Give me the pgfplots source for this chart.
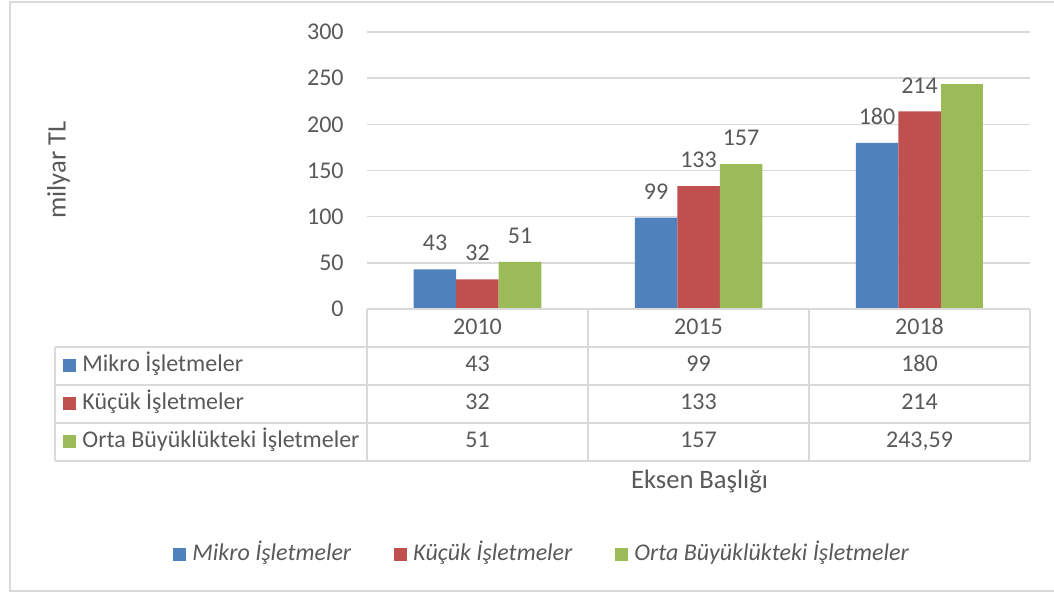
\documentclass[border=0pt]{standalone}
\usepackage{fontspec}
\setmainfont{Carlito}
\usepackage{pgfplots}
\pgfplotsset{compat=1.18}
\definecolor{cblue}{HTML}{4F81BD}
\definecolor{cred}{HTML}{C0504D}
\definecolor{cgreen}{HTML}{9BBB59}
\definecolor{txt}{HTML}{595959}
\definecolor{grd}{HTML}{D9D9D9}
\newcommand{\fs}{\fontsize{12}{14}\selectfont}
\newcommand{\ft}{\fontsize{13.3}{15}\selectfont}
\begin{document}
\begin{tikzpicture}[font=\fs, text=txt]
\begin{axis}[name=ax, at={(0,0)}, anchor=south west,
  scale only axis, width=331.5pt, height=138.5pt,
  xmin=-0.5, xmax=2.5, ymin=0, ymax=300,
  ytick={0,50,...,300}, xtick=\empty,
  ymajorgrids, grid style={grd, line width=0.75pt},
  axis line style={draw=none}, major tick length=0pt,
  yticklabel style={inner sep=0pt, xshift=-11.5pt, text=txt, font=\fs},
  /pgf/number format/assume math mode=true,
  ybar=0pt, bar width=21.25pt,
  clip=false,
  every node near coord/.append style={anchor=south, inner sep=0pt, yshift=9pt, font=\fs, text=txt},
  legend style={at={(-0.2926,-0.8863)}, anchor=west, draw=none, fill=none, inner sep=0pt,
    legend columns=3, font=\itshape\fs,
    nodes={inner sep=0pt, text depth=0pt, text height=6.5pt, text=txt},
    cells={anchor=base west},
    /tikz/every odd column/.append style={column sep=3pt},
    /tikz/every even column/.append style={column sep=21.5pt}},
]
\addplot[fill=cblue, draw=none, bar shift=-21.25pt, nodes near coords,
  legend image code/.code={\fill[cblue] (0pt,0pt) rectangle (6.5pt,6.5pt);}]
  coordinates {(0,43) (1,99) (2,180)};
\addlegendentry{Mikro İşletmeler}
\addplot[fill=cred, draw=none, bar shift=0pt, nodes near coords,
  legend image code/.code={\fill[cred] (0pt,0pt) rectangle (6.5pt,6.5pt);}]
  coordinates {(0,32) (1,133) (2,214)};
\addlegendentry{Küçük İşletmeler}
\addplot[fill=cgreen, draw=none, bar shift=21.25pt, nodes near coords,
  legend image code/.code={\fill[cgreen] (0pt,0pt) rectangle (6.5pt,6.5pt);}]
  coordinates {(0,51) (1,157)};
\addlegendentry{Orta Büyüklükteki İşletmeler}
\addplot[fill=cgreen, draw=none, bar shift=21.25pt, forget plot]
  coordinates {(2,243.59)};
\end{axis}
\begin{scope}[x=0.5pt, y=-0.5pt, xshift=-183.5pt, yshift=154.5pt]
  % outer border
  \draw[grd, line width=1pt] (1060,2) -- (10,2) -- (10,591) -- (1060,591);
  % data table
  \draw[grd, line width=1pt] (367,309) -- (1030,309);
  \foreach \X in {367,588,809,1030} \draw[grd, line width=1pt] (\X,309) -- (\X,461);
  \draw[grd, line width=1pt] (55,347) -- (55,461);
  \foreach \Y in {347,385,423,461} \draw[grd, line width=1pt] (55,\Y) -- (1030,\Y);
  \node[anchor=base] at (477.5,335) {2010};
  \node[anchor=base] at (698.5,335) {2015};
  \node[anchor=base] at (919.5,335) {2018};
  \fill[cblue] (63,359) rectangle (76,372);
  \fill[cred] (63,397) rectangle (76,410);
  \fill[cgreen] (63,435) rectangle (76,448);
  \node[anchor=base west, inner sep=0pt] at (82,372) {Mikro İşletmeler};
  \node[anchor=base west, inner sep=0pt] at (82,410) {Küçük İşletmeler};
  \node[anchor=base west, inner sep=0pt] at (82,448) {Orta Büyüklükteki İşletmeler};
  \node[anchor=base] at (477.5,372) {43};
  \node[anchor=base] at (698.5,372) {99};
  \node[anchor=base] at (919.5,372) {180};
  \node[anchor=base] at (477.5,410) {32};
  \node[anchor=base] at (698.5,410) {133};
  \node[anchor=base] at (919.5,410) {214};
  \node[anchor=base] at (477.5,448) {51};
  \node[anchor=base] at (698.5,448) {157};
  \node[anchor=base] at (919.5,448) {243,59};
  \node[anchor=base, font=\ft] at (699.5,489) {Eksen Başlığı};
  \node[rotate=90, anchor=center, font=\ft] at (58.5,170) {milyar TL};
  \pgfresetboundingbox
  \path[use as bounding box] (0,0) rectangle (1054,592);
\end{scope}
\end{tikzpicture}
\end{document}
